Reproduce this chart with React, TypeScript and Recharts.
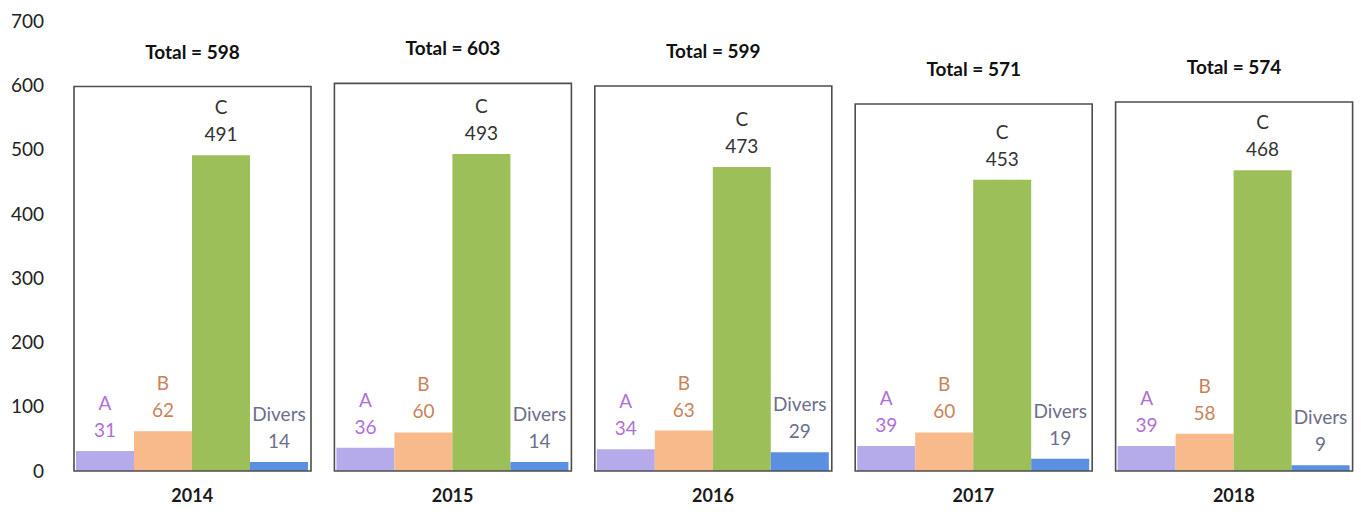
import { BarChart, Bar, XAxis, YAxis, LabelList } from "recharts";

const years = ["2014", "2015", "2016", "2017", "2018"];
const valuesA = [31, 36, 34, 39, 39];
const valuesB = [62, 60, 63, 60, 58];
const valuesC = [491, 493, 473, 453, 468];
const valuesDivers = [14, 14, 29, 19, 9];
const totals = [598, 603, 599, 571, 574];
const yTicks = [0, 100, 200, 300, 400, 500, 600, 700];

const series = [
  { key: "A", name: "A", fill: "#b5aaea", text: "#b06fd8" },
  { key: "B", name: "B", fill: "#f8b98b", text: "#c9825a" },
  { key: "C", name: "C", fill: "#9dbf5a", text: "#333333" },
  { key: "Divers", name: "Divers", fill: "#5b8fdf", text: "#6c6f8c" },
];

const data = years.map((year, i) => ({
  year,
  A: valuesA[i],
  B: valuesB[i],
  C: valuesC[i],
  Divers: valuesDivers[i],
  Total: totals[i],
}));

const FONT = "Lato, 'Open Sans', sans-serif";

// two-line label: series name above its value
const seriesLabel = (name: string, color: string) => (props: any) => {
  const { x, y, width, value } = props;
  const cx = Number(x) + Number(width) / 2;
  return (
    <g>
      <text x={cx} y={Number(y) - 41} textAnchor="middle" fill={color} fontSize={19} fontFamily={FONT}>
        {name}
      </text>
      <text x={cx} y={Number(y) - 14} textAnchor="middle" fill={color} fontSize={19} fontFamily={FONT}>
        {value}
      </text>
    </g>
  );
};

const totalLabel = (props: any) => {
  const { x, y, width, value } = props;
  return (
    <text
      x={Number(x) + Number(width) / 2}
      y={Number(y) - 28}
      textAnchor="middle"
      fill="#111"
      fontSize={19}
      fontWeight="bold"
      fontFamily={FONT}
    >
      {`Total = ${value}`}
    </text>
  );
};

export default function App() {
  return (
    <div style={{ position: "absolute", left: 0, top: 0, width: 1361, height: 512, overflow: "hidden", background: "#fff" }}>
      <BarChart
        width={1364}
        height={512}
        data={data}
        barGap={0}
        margin={{ top: 21, right: 0, bottom: 11, left: 0 }}
      >
        <XAxis
          dataKey="year"
          axisLine={false}
          tickLine={false}
          height={30}
          tickMargin={12}
          tick={{ fill: "#1a1a1a", fontSize: 18, fontWeight: "bold", fontFamily: FONT }}
        />
        <XAxis xAxisId="total" dataKey="year" hide />
        <YAxis
          domain={[0, 700]}
          ticks={yTicks}
          width={62}
          axisLine={false}
          tickLine={false}
          tickMargin={12}
          tick={{ fill: "#222", fontSize: 19, fontFamily: FONT }}
        />
        {series.map((s) => (
          <Bar key={s.key} dataKey={s.key} fill={s.fill} barSize={58} isAnimationActive={false}>
            <LabelList dataKey={s.key} content={seriesLabel(s.name, s.text)} />
          </Bar>
        ))}
        <Bar
          xAxisId="total"
          dataKey="Total"
          fill="none"
          stroke="#4d4d4d"
          strokeWidth={1.6}
          barSize={237}
          isAnimationActive={false}
        >
          <LabelList dataKey="Total" content={totalLabel} />
        </Bar>
      </BarChart>
    </div>
  );
}
